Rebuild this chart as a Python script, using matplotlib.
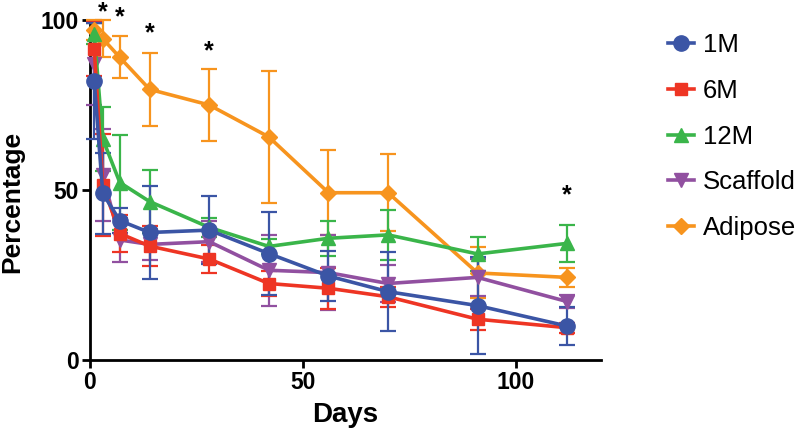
import matplotlib
matplotlib.use("Agg")
import matplotlib.pyplot as plt

plt.rcParams['font.family'] = ['Liberation Sans', 'DejaVu Sans']

days = [1, 3, 7, 14, 28, 42, 56, 70, 91, 112]

m1 = [82, 49, 41, 37.5, 38.2, 31.3, 24.7, 20.1, 16, 10]
m1_err = [17, 12, 3.7, 13.8, 10, 12.3, 7.3, 11.7, 14.2, 5.6]

m6 = [91.5, 51.5, 37.2, 33.5, 29.7, 22.5, 21.1, 18.6, 12, 9.5]
m6_err = [8, 15, 5.3, 5.8, 4, 3.7, 6, 3, 3.1, 1.5]

m12 = [96, 65, 52.2, 46.6, 39, 33.4, 35.8, 36.8, 31.2, 34.3]
m12_err = [3, 9.5, 14, 9.3, 2.9, 2.2, 5.1, 7.3, 5.1, 5.5]

scaffold = [87, 54.5, 35.3, 34, 34.8, 26.4, 25.7, 22.5, 24.3, 17.2]
scaffold_err = [12, 13.5, 6.5, 4.5, 6, 10.5, 11, 5.5, 5.5, 1.8]

adipose = [97, 94.5, 89, 79.6, 75, 65.6, 49.2, 49.2, 25.6, 24.3]
adipose_err = [3, 5.5, 6.2, 10.7, 10.5, 19.5, 12.5, 11.3, 7.5, 2.8]

sig_days = [3, 7, 14, 28, 112]
sig_y = [102.3, 100.8, 96.0, 90.8, 48.5]

labels = ['1M', '6M', '12M', 'Scaffold', 'Adipose']
x_ticks = [0, 50, 100]
y_ticks = [0, 50, 100]

series = [
    ('Adipose', adipose, adipose_err, '#F7941E', 'D', 8),
    ('Scaffold', scaffold, scaffold_err, '#9150A0', 'v', 10),
    ('12M', m12, m12_err, '#3AB54A', '^', 10),
    ('6M', m6, m6_err, '#EE3524', 's', 9),
    ('1M', m1, m1_err, '#3B55A5', 'o', 11),
]

fig = plt.figure(figsize=(8.0, 4.34), dpi=100)
ax = fig.add_axes([90/800, 1-360/434, (601-90)/800, 340/434])

handles = {}
for name, vals, err, col, mk, ms in series:
    eb = ax.errorbar(days, vals, yerr=err, color=col, marker=mk, markersize=ms,
                     linewidth=2.6, elinewidth=1.6, capsize=6, capthick=1.6,
                     clip_on=False, zorder=3)
    eb[0].set_clip_on(False)
    for c in eb[1]:
        c.set_clip_on(False)
    for c in eb[2]:
        c.set_clip_on(False)
    h, = ax.plot([], [], color=col, marker=mk, markersize=ms, linewidth=2.6)
    handles[name] = h

for d, y in zip(sig_days, sig_y):
    ax.text(d, y, '*', ha='center', va='center', fontsize=18, fontweight='bold',
            color='black', clip_on=False)

ax.set_xlim(0, 120)
ax.set_ylim(0, 100)
ax.set_xticks(x_ticks)
ax.set_yticks(y_ticks)
for s in ['top', 'right']:
    ax.spines[s].set_visible(False)
for s in ['left', 'bottom']:
    ax.spines[s].set_linewidth(2.0)
ax.tick_params(axis='both', width=2.0, length=6, labelsize=16.5, pad=2)
for lab in ax.get_xticklabels() + ax.get_yticklabels():
    lab.set_fontweight('bold')

ax.set_xlabel('Days', fontsize=20, fontweight='bold', labelpad=6)
ax.set_ylabel('Percentage', fontsize=19, fontweight='bold')
ax.yaxis.set_label_coords(-0.128, 0.465)

leg = fig.legend([handles[l] for l in labels], labels, loc='upper left',
                 bbox_to_anchor=(655/800, 1-20/434), frameon=False,
                 fontsize=18.5, handlelength=1.0, handletextpad=0.35,
                 labelspacing=0.85, borderpad=0)

fig.savefig('out.png', dpi=100)
